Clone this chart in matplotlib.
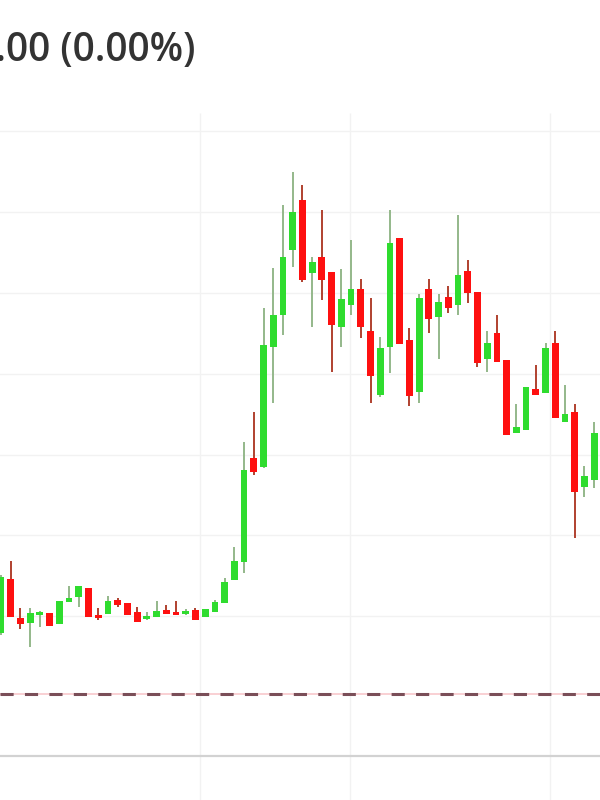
import matplotlib
matplotlib.use("Agg")
import matplotlib.pyplot as plt

# candle values (open, high, low, close)
opens = [167, 221, 182, 177, 185, 187, 176, 198, 203, 212,
         185, 186, 200, 197, 188, 181, 183, 190, 187, 186,
         190, 183, 188, 197, 220, 238, 342, 333, 453, 485,
         550, 600, 527, 543, 528, 473, 495, 511, 469, 405,
         453, 562, 460, 408, 511, 483, 503, 495, 529, 508,
         441, 467, 440, 367, 370, 411, 407, 457, 378, 388,
         313, 320]
highs = [225, 239, 192, 192, 189, 187, 199, 214, 214, 212,
         192, 204, 202, 197, 193, 188, 199, 195, 199, 191,
         192, 191, 200, 222, 253, 358, 388, 492, 532, 595,
         628, 615, 543, 590, 528, 531, 560, 521, 502, 463,
         590, 562, 472, 506, 521, 506, 514, 585, 540, 508,
         469, 485, 440, 396, 413, 435, 457, 469, 415, 396,
         334, 378]
lows = [165, 183, 171, 153, 173, 174, 176, 198, 193, 183,
        180, 186, 193, 185, 178, 180, 183, 186, 185, 185,
        180, 183, 188, 197, 220, 227, 325, 332, 397, 465,
        533, 518, 473, 500, 428, 453, 485, 462, 397, 403,
        427, 456, 394, 397, 467, 441, 487, 485, 497, 433,
        428, 438, 365, 367, 370, 405, 407, 382, 378, 262,
        303, 312]
closes = [223, 183, 176, 187, 188, 174, 199, 202, 214, 183,
          182, 199, 195, 185, 178, 183, 189, 186, 185, 189,
          180, 191, 198, 218, 239, 330, 328, 455, 485, 543,
          588, 520, 538, 520, 475, 501, 511, 473, 424, 452,
          557, 456, 404, 502, 481, 498, 492, 525, 507, 437,
          457, 438, 365, 373, 413, 405, 452, 382, 386, 308,
          324, 367]

price_grid = [669, 588, 507, 426, 345, 265, 184]
time_grid = [20.45, 35.87, 56.5]
base_price = 106
header = "+0.00 (0.00%)"

fig = plt.figure(figsize=(6, 8), dpi=100)
ax = fig.add_axes([0, 0, 1, 1])
ax.set_xlim(-0.1, 61.6)
ax.set_ylim(0, 800)
ax.axis("off")

# grid
for p in price_grid:
    ax.axhline(p, color="#f2f2f2", lw=1, zorder=0)
ax.vlines(time_grid, 0, 687, color="#f2f2f2", lw=1, zorder=0)

# reference line and bottom axis
ax.axhline(base_price, color="#f8c8cc", lw=1.2, zorder=1)
ax.axhline(base_price, color="#7a4e58", lw=2.2, dashes=(4.3, 3.7), zorder=2)
ax.axhline(44, color="#d2d2d2", lw=1.6, zorder=1)

# candles
for i in range(len(opens)):
    o, h, l, c = opens[i], highs[i], lows[i], closes[i]
    up = c >= o
    body_col = "#2fdc2f" if up else "#fe1010"
    wick_col = "#94b88a" if up else "#b0412f"
    ax.vlines(i, l, h, color=wick_col, lw=1.4, zorder=3)
    ax.bar(i, max(abs(c - o), 3), bottom=min(o, c), width=0.7,
           color=body_col, zorder=4)

fig.text(195 / 600, 1 - 51 / 800, header, ha="right", va="center",
         fontsize=28, fontweight=600, family="Open Sans", color="#333333")

fig.savefig("out.png", dpi=100)
